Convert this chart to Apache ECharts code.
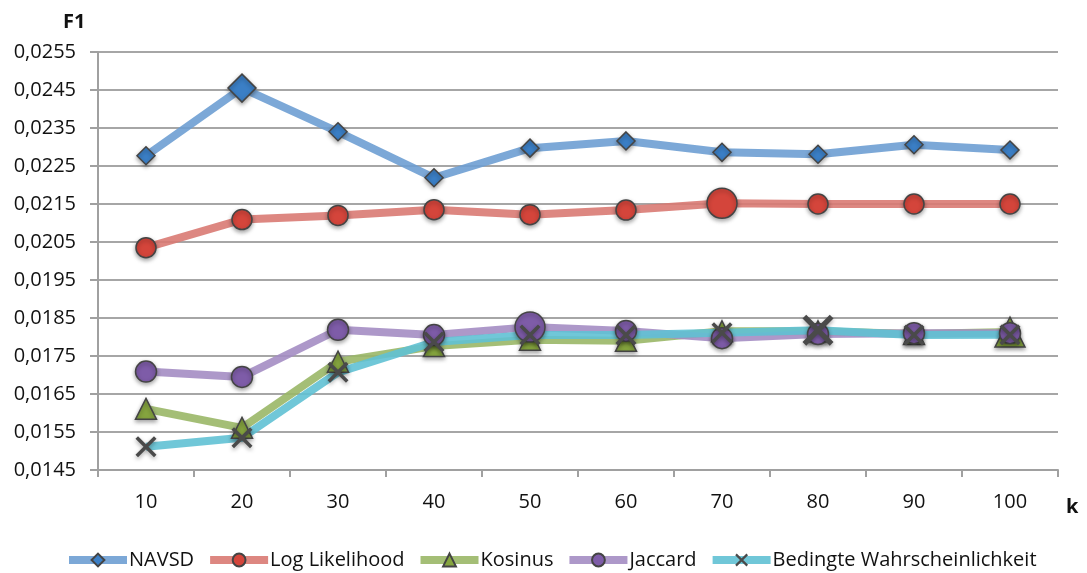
<!DOCTYPE html>
<html>
<head>
<meta charset="utf-8">
<script src="https://cdn.jsdelivr.net/npm/echarts@6/dist/echarts.min.js"></script>
<style>
html,body{margin:0;padding:0;background:#fff;}
#chart{width:1087px;height:573px;}
</style>
</head>
<body>
<div id="chart"></div>
<script>
const categories = ['10', '20', '30', '40', '50', '60', '70', '80', '90', '100'];
const navsd = [0.02277, 0.02455, 0.02340, 0.02219, 0.02297, 0.02316, 0.02286, 0.02281, 0.02306, 0.02292];
const logLikelihood = [0.02035, 0.02109, 0.02120, 0.02135, 0.02122, 0.02134, 0.02152, 0.02150, 0.02150, 0.02150];
const kosinus = [0.01611, 0.01561, 0.01735, 0.01776, 0.01793, 0.01790, 0.01815, 0.01815, 0.01808, 0.01813];
const jaccard = [0.01709, 0.01695, 0.01819, 0.01805, 0.01826, 0.01816, 0.01797, 0.01808, 0.01810, 0.01810];
const bedingte = [0.01511, 0.01535, 0.01707, 0.01787, 0.01805, 0.01805, 0.01811, 0.01818, 0.01805, 0.01806];
const seriesNames = ['NAVSD', 'Log Likelihood', 'Kosinus', 'Jaccard', 'Bedingte Wahrscheinlichkeit'];
const yMin = 0.0145, yMax = 0.0255, yStep = 0.001;

const FONT = 'Open Sans';
const crossPath = 'path://M0,1.2 L1.2,0 L10,8.8 L8.8,10 Z M8.8,0 L10,1.2 L1.2,10 L0,8.8 Z';

function mk(name, values, lineColor, markColor, symbol, size, bigIdx, bigSize) {
  return {
    name: name,
    type: 'line',
    data: values.map((v, i) => i === bigIdx ? { value: v, symbolSize: bigSize } : v),
    symbol: symbol,
    symbolSize: size,
    showAllSymbol: true,
    lineStyle: { color: lineColor, width: 8, opacity: 0.9 },
    itemStyle: {
      color: markColor,
      borderColor: '#444',
      borderWidth: symbol === crossPath ? 0 : 1.5,
      shadowBlur: 4, shadowColor: 'rgba(0,0,0,0.35)', shadowOffsetY: 2
    },
    emphasis: { disabled: true },
    animation: false
  };
}

const chart = echarts.init(document.getElementById('chart'));
chart.setOption({
  backgroundColor: '#fff',
  textStyle: { fontFamily: FONT },
  grid: { left: 98, right: 29, top: 52, bottom: 103, containLabel: false },
  xAxis: {
    type: 'category',
    data: categories,
    boundaryGap: true,
    axisLine: { lineStyle: { color: '#a0a0a0', width: 2 } },
    axisTick: { show: true, length: 7, alignWithLabel: false, lineStyle: { color: '#a0a0a0', width: 2 } },
    axisLabel: { color: '#111', fontSize: 20, fontFamily: FONT, margin: 22 },
    splitLine: { show: false }
  },
  yAxis: {
    type: 'value',
    min: yMin, max: yMax, interval: yStep,
    axisLine: { show: true, lineStyle: { color: '#a0a0a0', width: 2 } },
    axisTick: { show: true, length: 8, lineStyle: { color: '#a0a0a0', width: 2 } },
    axisLabel: {
      color: '#111', fontSize: 20, fontFamily: FONT, margin: 22,
      formatter: v => v.toFixed(4).replace('.', ',')
    },
    splitLine: { show: true, lineStyle: { color: '#a6a6a6', width: 2 } }
  },
  legend: {
    data: seriesNames,
    left: 60, top: 545,
    itemWidth: 58, itemHeight: 16, itemGap: 12,
    lineStyle: { width: 8 },
    itemStyle: { shadowBlur: 0, shadowOffsetY: 0 },
    textStyle: { fontSize: 20, fontFamily: FONT, color: '#111', padding: [0, 0, 0, -3] }
  },
  graphic: [
    { type: 'text', left: 63, top: 12, style: { text: 'F1', font: 'bold 20px "Open Sans"', fill: '#111' } },
    { type: 'text', left: 1066, top: 497, style: { text: 'k', font: 'bold 20px "Open Sans"', fill: '#111' } }
  ],
  series: [
    mk(seriesNames[0], navsd, '#6e9fd3', '#3b7fc6', 'diamond', 18, 1, 28),
    mk(seriesNames[1], logLikelihood, '#d97a73', '#d4453b', 'circle', 20, 6, 30),
    mk(seriesNames[2], kosinus, '#9ab767', '#86a53f', 'triangle', 21, 9, 30),
    mk(seriesNames[3], jaccard, '#a48dc3', '#7e5ca8', 'circle', 21, 4, 30),
    mk(seriesNames[4], bedingte, '#60c1d4', '#4a4a4a', crossPath, 21, 7, 31)
  ]
});
</script>
</body>
</html>
